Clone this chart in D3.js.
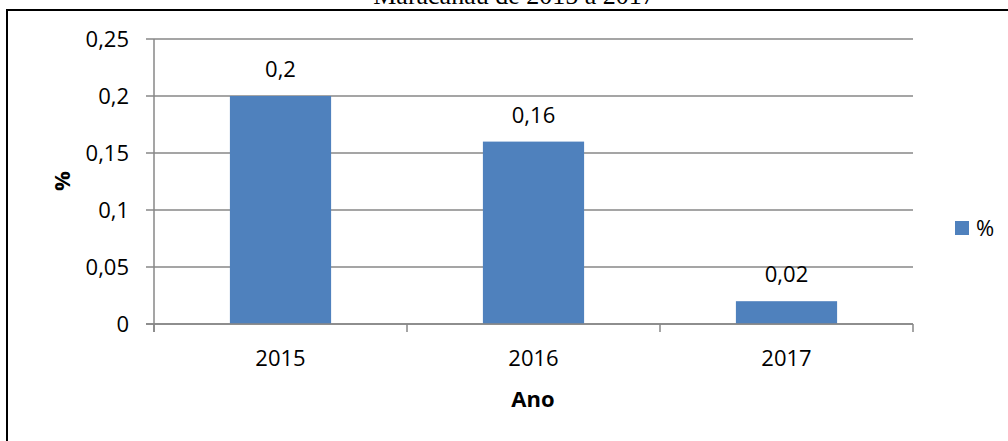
<!DOCTYPE html>
<html>
<head>
<meta charset="utf-8">
<script src="https://cdn.jsdelivr.net/npm/d3@7"></script>
<style>
  body { margin: 0; background: #fff; }
  svg text { font-family: "Open Sans", "Liberation Sans", sans-serif; fill: #000; }
</style>
</head>
<body>
<svg id="chart" width="1008" height="441"></svg>
<script>
// data
var anos = ["2015", "2016", "2017"];
var valores = [0.2, 0.16, 0.02];
var yTicks = [0, 0.05, 0.1, 0.15, 0.2, 0.25];
var titulo = "Maracanaú de 2015 a 2017";

var svg = d3.select("#chart");
var fmt = function(v) { return String(v).replace(".", ","); };

// frame round the chart (right and bottom edges fall outside the window)
svg.append("rect")
	.attr("x", 7).attr("y", 10)
	.attr("width", 1010).attr("height", 440)
	.attr("fill", "none").attr("stroke", "#000").attr("stroke-width", 2);

svg.append("text")
	.attr("x", 514).attr("y", 4)
	.attr("text-anchor", "middle")
	.style("font-family", "'Liberation Serif', 'Times New Roman', serif")
	.style("font-size", "26px")
	.text(titulo);

var x = d3.scaleBand().domain(anos).range([154, 913]).paddingInner(0.6).paddingOuter(0.3);
var xEdge = d3.scaleLinear().domain([0, anos.length]).range([154, 913]);
var y = d3.scaleLinear().domain([0, 0.25]).range([324, 39]);

var grid = "#878787";

// gridlines + y ticks
svg.append("g").selectAll("line")
	.data(yTicks)
	.join("line")
	.attr("x1", 146).attr("x2", 913)
	.attr("y1", d => y(d)).attr("y2", d => y(d))
	.attr("stroke", grid).attr("stroke-width", 1.5);

svg.append("g").selectAll("text")
	.data(yTicks)
	.join("text")
	.attr("x", 129).attr("y", d => y(d) + 8)
	.attr("text-anchor", "end")
	.style("font-size", "22px")
	.text(d => fmt(d));

// bars
svg.append("g").selectAll("rect")
	.data(valores)
	.join("rect")
	.attr("x", (d, i) => x(anos[i]))
	.attr("width", x.bandwidth())
	.attr("y", d => y(d))
	.attr("height", d => y(0) - y(d))
	.attr("fill", "#4F81BD");

svg.append("g").selectAll("text")
	.data(valores)
	.join("text")
	.attr("x", (d, i) => x(anos[i]) + x.bandwidth() / 2)
	.attr("y", d => y(d) - 19)
	.attr("text-anchor", "middle")
	.style("font-size", "22px")
	.text(d => fmt(d));

// axes lines
svg.append("line")
	.attr("x1", 154).attr("x2", 154)
	.attr("y1", y(0.25)).attr("y2", 332)
	.attr("stroke", grid).attr("stroke-width", 1.5);
svg.append("line")
	.attr("x1", 146).attr("x2", 913)
	.attr("y1", y(0)).attr("y2", y(0))
	.attr("stroke", grid).attr("stroke-width", 1.5);
svg.append("g").selectAll("line")
	.data(d3.range(anos.length + 1))
	.join("line")
	.attr("x1", d => xEdge(d)).attr("x2", d => xEdge(d))
	.attr("y1", y(0)).attr("y2", 332)
	.attr("stroke", grid).attr("stroke-width", 1.5);

svg.append("g").selectAll("text")
	.data(anos)
	.join("text")
	.attr("x", d => x(d) + x.bandwidth() / 2)
	.attr("y", 366)
	.attr("text-anchor", "middle")
	.style("font-size", "22px")
	.text(d => d);

// axis titles
svg.append("text")
	.attr("x", 533).attr("y", 407)
	.attr("text-anchor", "middle")
	.style("font-size", "22px").style("font-weight", "bold")
	.text("Ano");
svg.append("text")
	.attr("transform", "translate(70,181) rotate(-90)")
	.attr("text-anchor", "middle")
	.style("font-size", "22px").style("font-weight", "bold")
	.text("%");

// legend
svg.append("rect")
	.attr("x", 955).attr("y", 221).attr("width", 14).attr("height", 14)
	.attr("fill", "#4F81BD");
svg.append("text")
	.attr("x", 976).attr("y", 236)
	.style("font-size", "22px")
	.text("%");
</script>
</body>
</html>
